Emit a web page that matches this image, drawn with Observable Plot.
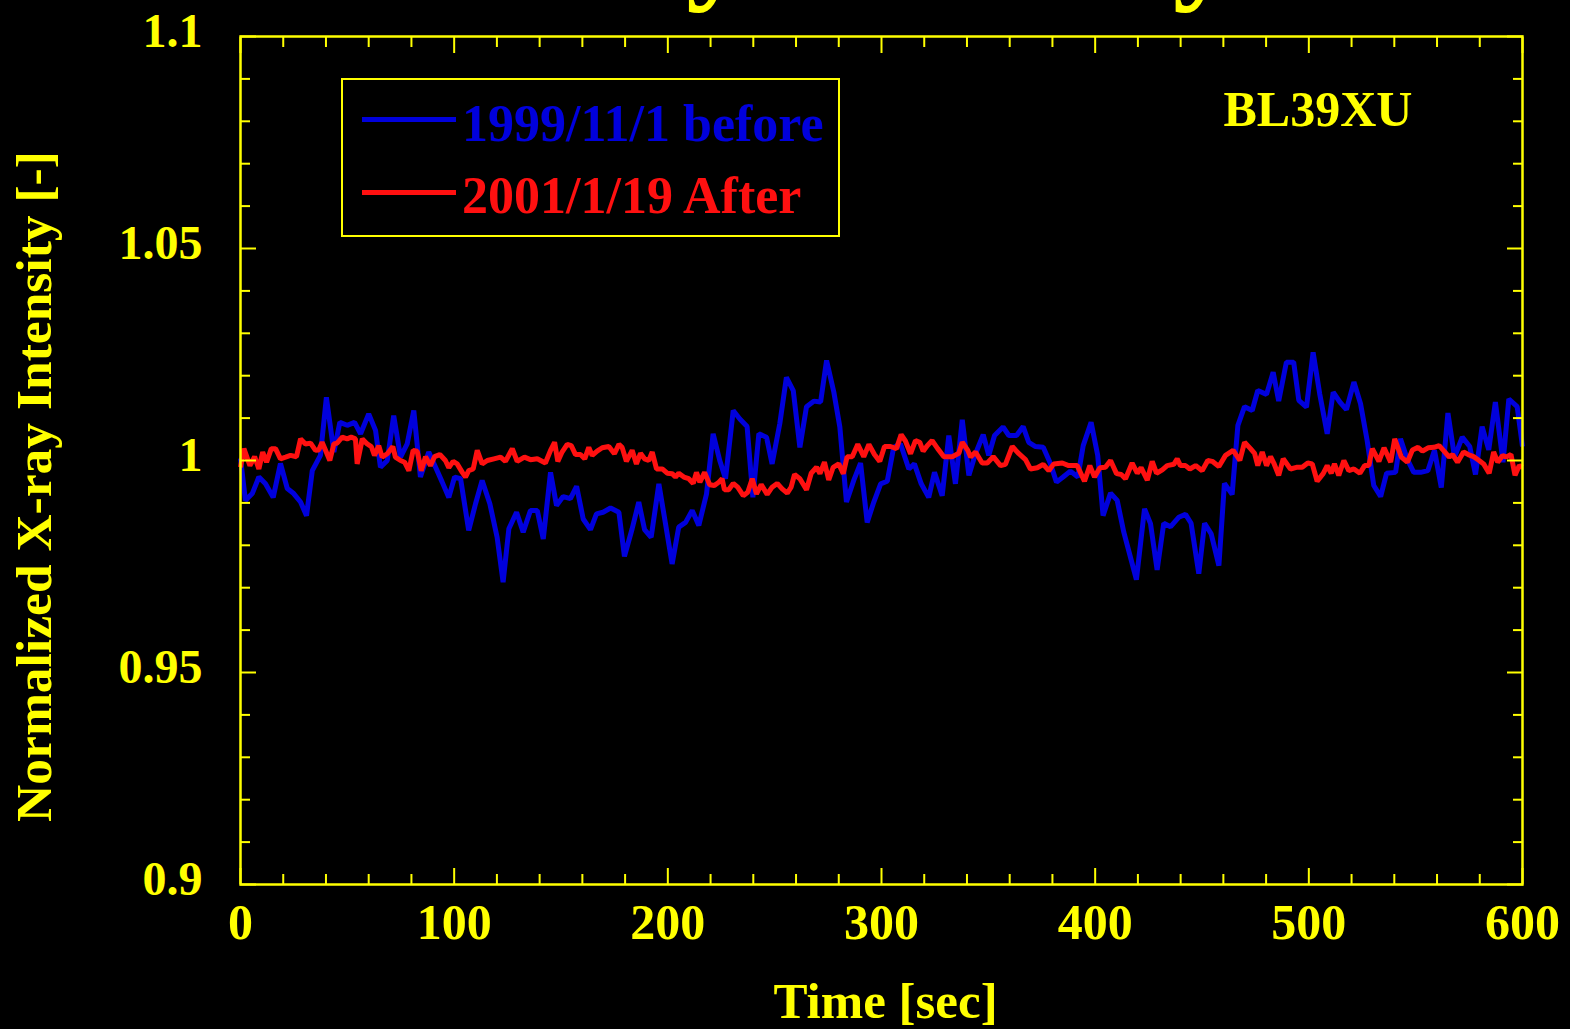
<!DOCTYPE html>
<html>
<head>
<meta charset="utf-8">
<script src="https://cdn.jsdelivr.net/npm/d3@7"></script>
<script src="https://cdn.jsdelivr.net/npm/@observablehq/plot@0.6"></script>
<style>
  html, body { margin: 0; padding: 0; background: #000; overflow: hidden; }
  #wrap { position: relative; width: 1570px; height: 1029px; background: #000; overflow: hidden; }
  .serif { font-family: "Liberation Serif", "Times New Roman", serif; font-weight: bold; }
  #title { position: absolute; left: 273px; top: -119px; font-size: 126px; line-height: 1; color: #ffff00; white-space: nowrap; }
  #legend { position: absolute; left: 341px; top: 78px; width: 499px; height: 159px; box-sizing: border-box; border: 2px solid #ffff00; }
  #legend .sw { position: absolute; left: 19px; width: 94px; height: 5px; }
  #legend .lt { position: absolute; left: 119px; font-size: 52px; line-height: 1; white-space: nowrap; }
</style>
</head>
<body>
<div id="wrap">
  <div id="chart"></div>
  <div id="title" class="serif">Intensity Stability</div>
  <div id="legend" class="serif"></div>
</div>
<script>
// ---------------- data ----------------
const seriesNames = ["1999/11/1 before", "2001/1/19 After"];
const seriesColors = ["#0000dc", "#ff1010"];
const stationLabel = "BL39XU";
const xTitle = "Time [sec]";
const yTitle = "Normalized X-ray Intensity [-]";

const xMajorTicks = [0, 100, 200, 300, 400, 500, 600];
const xMinorTicks = [20, 40, 60, 80, 120, 140, 160, 180, 220, 240, 260, 280, 320, 340, 360, 380, 420, 440, 460, 480, 520, 540, 560, 580];
const yMajorTicks = [0.9, 0.95, 1, 1.05, 1.1];
const yMinorTicks = [0.91, 0.92, 0.93, 0.94, 0.96, 0.97, 0.98, 0.99, 1.01, 1.02, 1.03, 1.04, 1.06, 1.07, 1.08, 1.09];

// 1999/11/1 before (blue)
const beforeTime = [0, 2.3, 5.5, 8.6, 11.7, 15.3, 18.7, 21.9, 24.9, 28.1, 30.9, 33.6, 37.4, 40.2, 43.7, 46.5, 49.9, 53.4, 56.2, 60.0, 63.2, 65.5, 68.7, 71.7, 74.9, 78.0, 81.1, 84.2, 88.1, 91.3, 94.4, 97.5, 100.2, 103.0, 106.8, 110.0, 113.1, 116.7, 120.1, 122.9, 125.6, 129.2, 132.3, 135.7, 138.9, 141.7, 145.1, 147.9, 151.0, 154.4, 157.3, 160.4, 163.8, 166.6, 169.7, 173.2, 177.1, 179.7, 183.3, 186.4, 189.1, 192.2, 195.8, 198.9, 202.0, 205.1, 208.3, 211.4, 214.5, 218.1, 221.2, 224.3, 227.0, 230.6, 233.7, 237.1, 239.8, 242.6, 246.2, 248.8, 252.4, 255.5, 258.7, 261.8, 264.9, 268.3, 271.5, 274.3, 277.7, 280.5, 283.6, 287.0, 290.2, 293.3, 296.4, 299.6, 302.7, 305.7, 308.9, 312.8, 315.4, 318.6, 322.1, 324.8, 328.4, 331.5, 334.6, 337.8, 340.9, 344.0, 347.6, 350.2, 352.9, 356.9, 359.6, 363.2, 366.3, 368.9, 372.1, 375.7, 378.8, 381.9, 385.0, 388.4, 391.9, 394.4, 398.1, 401.2, 403.7, 407.2, 410.3, 413.4, 416.5, 419.3, 423.1, 425.9, 429.0, 432.1, 435.3, 439.1, 442.3, 444.9, 448.5, 451.2, 454.3, 457.9, 460.5, 464.1, 466.8, 469.9, 473.5, 476.1, 480.2, 483.3, 485.9, 489.5, 492.9, 495.3, 498.9, 502.0, 505.1, 508.6, 511.4, 514.5, 517.6, 521.1, 524.2, 527.3, 530.4, 533.6, 536.4, 540.6, 542.9, 546.0, 549.1, 552.3, 555.7, 558.8, 562.0, 565.1, 568.2, 571.8, 575.3, 578.0, 581.1, 584.2, 587.3, 590.9, 593.6, 597.5, 600];
const beforeValue = [1.0005, 0.9906, 0.9922, 0.9961, 0.9945, 0.9913, 0.9993, 0.9934, 0.9922, 0.9902, 0.9870, 0.9976, 1.0012, 1.0149, 1.0020, 1.0090, 1.0083, 1.0090, 1.0063, 1.0110, 1.0071, 0.9984, 1.0000, 1.0106, 1.0008, 1.0039, 1.0118, 0.9961, 1.0020, 0.9984, 0.9949, 0.9913, 0.9961, 0.9957, 0.9835, 0.9898, 0.9953, 0.9898, 0.9819, 0.9713, 0.9839, 0.9878, 0.9831, 0.9882, 0.9882, 0.9815, 0.9972, 0.9894, 0.9915, 0.9910, 0.9939, 0.9862, 0.9837, 0.9874, 0.9878, 0.9888, 0.9878, 0.9774, 0.9839, 0.9902, 0.9837, 0.9819, 0.9945, 0.9851, 0.9756, 0.9843, 0.9854, 0.9882, 0.9847, 0.9921, 1.0063, 1.0000, 0.9957, 1.0118, 1.0098, 1.0080, 0.9913, 1.0063, 1.0055, 0.9992, 1.0087, 1.0196, 1.0165, 1.0031, 1.0127, 1.0140, 1.0138, 1.0236, 1.0161, 1.0079, 0.9902, 0.9953, 0.9994, 0.9854, 0.9902, 0.9945, 0.9951, 1.0031, 1.0039, 0.9980, 0.9992, 0.9945, 0.9913, 0.9972, 0.9917, 1.0059, 0.9945, 1.0096, 0.9965, 1.0016, 1.0061, 1.0012, 1.0059, 1.0079, 1.0059, 1.0059, 1.0080, 1.0043, 1.0033, 1.0031, 0.9996, 0.9949, 0.9961, 0.9975, 0.9961, 1.0035, 1.0090, 1.0012, 0.9870, 0.9923, 0.9906, 0.9831, 0.9772, 0.9719, 0.9886, 0.9851, 0.9742, 0.9852, 0.9844, 0.9866, 0.9873, 0.9852, 0.9733, 0.9852, 0.9827, 0.9752, 0.9946, 0.9920, 1.0083, 1.0127, 1.0118, 1.0165, 1.0156, 1.0208, 1.0140, 1.0232, 1.0232, 1.0142, 1.0126, 1.0255, 1.0157, 1.0063, 1.0161, 1.0138, 1.0120, 1.0185, 1.0134, 1.0047, 0.9941, 0.9915, 0.9970, 0.9972, 1.0051, 1.0004, 0.9972, 0.9972, 0.9976, 1.0024, 0.9936, 1.0112, 1.0008, 1.0055, 1.0033, 0.9967, 1.0080, 1.0025, 1.0138, 0.9996, 1.0145, 1.0127, 1.0033];

// 2001/1/19 After (red)
const afterTime = [0, 1.6, 4.4, 6.6, 8.6, 10.4, 12.2, 14.4, 16.4, 18.7, 21.1, 23.4, 26.2, 28.1, 30.4, 32.8, 35.1, 36.6, 38.2, 39.8, 41.8, 43.7, 45.2, 47.6, 49.9, 51.8, 53.8, 54.6, 57.0, 59.3, 61.2, 62.7, 64.7, 66.3, 68.7, 71.3, 72.5, 74.9, 76.8, 78.8, 80.8, 82.7, 84.6, 86.6, 88.9, 90.8, 93.3, 95.9, 97.5, 99.5, 101.4, 103.8, 105.3, 106.8, 108.9, 110.8, 113.1, 115.5, 118.6, 121.7, 124.0, 127.2, 129.5, 132.9, 135.7, 138.9, 142.7, 145.1, 147.0, 148.5, 150.5, 152.9, 154.8, 156.8, 159.1, 161.1, 163.0, 164.6, 166.9, 169.3, 172.4, 175.0, 177.1, 178.6, 180.6, 183.3, 185.3, 187.2, 189.1, 191.1, 192.7, 194.7, 197.4, 199.7, 202.0, 203.6, 205.1, 207.5, 209.8, 211.9, 213.4, 215.0, 217.2, 219.6, 221.8, 223.9, 225.4, 226.5, 228.5, 230.6, 232.7, 235.3, 237.4, 239.5, 241.5, 243.7, 246.5, 248.8, 251.2, 253.5, 255.9, 257.7, 259.3, 261.8, 264.9, 267.1, 269.6, 271.2, 273.3, 275.3, 277.4, 280.0, 282.1, 283.9, 286.3, 288.9, 291.7, 294.1, 296.7, 299.2, 301.4, 304.2, 307.0, 309.2, 311.2, 313.6, 315.9, 317.9, 319.5, 321.4, 323.7, 326.3, 329.2, 333.1, 336.2, 337.8, 340.4, 341.7, 344.0, 347.1, 349.5, 352.3, 355.7, 358.0, 361.2, 364.3, 367.4, 369.7, 372.9, 375.7, 378.3, 380.6, 384.6, 387.6, 391.6, 395.0, 397.5, 399.7, 402.2, 404.8, 407.2, 410.0, 412.2, 414.2, 417.3, 419.7, 421.5, 424.4, 426.7, 428.7, 431.4, 433.7, 436.8, 438.4, 439.9, 442.3, 444.3, 447.0, 450.1, 452.7, 454.8, 457.9, 461.0, 464.6, 467.7, 469.9, 472.7, 474.6, 476.1, 478.2, 480.2, 482.1, 483.6, 485.9, 488.0, 491.4, 494.2, 496.9, 499.5, 501.6, 503.9, 506.7, 508.6, 510.5, 512.0, 514.0, 516.4, 518.7, 521.1, 523.9, 526.1, 528.1, 529.7, 532.8, 535.2, 538.3, 540.2, 543.3, 546.1, 548.5, 551.1, 553.2, 555.8, 558.6, 561.0, 563.3, 565.7, 567.3, 569.6, 572.4, 574.6, 577.1, 579.7, 581.8, 584.4, 586.5, 588.4, 590.7, 592.3, 594.6, 596.5, 598.5, 600.0];
const afterValue = [0.9984, 1.0028, 0.9988, 1.0009, 0.9980, 1.0020, 0.9996, 1.0028, 1.0028, 1.0004, 1.0008, 1.0012, 1.0009, 1.0051, 1.0039, 1.0041, 1.0024, 1.0025, 1.0043, 1.0024, 1.0000, 1.0039, 1.0041, 1.0055, 1.0051, 1.0055, 1.0051, 0.9992, 1.0051, 1.0039, 1.0033, 1.0012, 1.0035, 1.0008, 1.0016, 1.0033, 1.0008, 1.0000, 0.9996, 0.9976, 1.0024, 1.0022, 0.9976, 1.0009, 0.9988, 1.0009, 1.0014, 1.0000, 0.9983, 0.9998, 0.9992, 0.9972, 0.9961, 0.9976, 0.9980, 1.0024, 0.9992, 1.0000, 1.0004, 1.0008, 0.9998, 1.0028, 0.9998, 1.0008, 1.0002, 1.0004, 0.9994, 1.0024, 1.0043, 0.9998, 1.0020, 1.0038, 1.0035, 1.0014, 1.0014, 1.0004, 1.0031, 1.0012, 1.0022, 1.0030, 1.0033, 1.0016, 1.0038, 1.0031, 0.9998, 1.0024, 0.9992, 1.0017, 1.0004, 1.0000, 1.0020, 0.9980, 0.9980, 0.9970, 0.9969, 0.9961, 0.9970, 0.9961, 0.9957, 0.9946, 0.9972, 0.9949, 0.9972, 0.9943, 0.9941, 0.9949, 0.9957, 0.9931, 0.9931, 0.9946, 0.9937, 0.9917, 0.9925, 0.9957, 0.9921, 0.9943, 0.9920, 0.9937, 0.9946, 0.9933, 0.9923, 0.9937, 0.9967, 0.9957, 0.9931, 0.9970, 0.9984, 0.9969, 0.9996, 0.9954, 0.9984, 0.9992, 0.9969, 1.0009, 1.0009, 1.0038, 1.0009, 1.0038, 1.0014, 0.9998, 1.0033, 1.0033, 1.0028, 1.0061, 1.0046, 1.0016, 1.0047, 1.0043, 1.0022, 1.0035, 1.0047, 1.0028, 1.0009, 1.0009, 1.0017, 1.0043, 1.0024, 1.0008, 1.0020, 0.9994, 0.9994, 1.0009, 0.9988, 0.9991, 1.0033, 1.0016, 1.0002, 0.9980, 0.9983, 0.9991, 0.9976, 0.9992, 0.9994, 0.9988, 0.9988, 0.9951, 0.9988, 0.9961, 0.9983, 0.9984, 1.0000, 0.9969, 0.9967, 0.9957, 0.9994, 0.9970, 0.9983, 0.9954, 0.9998, 0.9970, 0.9978, 0.9988, 0.9991, 1.0004, 0.9988, 0.9988, 0.9980, 0.9988, 0.9976, 1.0000, 0.9998, 0.9986, 1.0012, 1.0024, 1.0000, 1.0043, 1.0028, 1.0017, 0.9988, 1.0020, 0.9988, 1.0009, 0.9994, 0.9965, 1.0004, 0.9980, 0.9984, 0.9984, 0.9994, 0.9992, 0.9951, 0.9969, 0.9988, 0.9970, 0.9992, 0.9965, 1.0000, 0.9976, 0.9980, 0.9970, 0.9988, 0.9988, 1.0028, 0.9998, 1.0030, 0.9996, 1.0051, 1.0008, 0.9996, 1.0025, 1.0031, 1.0022, 1.0030, 1.0031, 1.0035, 1.0022, 1.0008, 1.0014, 0.9996, 1.0020, 1.0014, 1.0009, 1.0000, 0.9992, 0.9970, 1.0020, 0.9996, 1.0012, 1.0008, 1.0014, 0.9965, 0.9988, 0.9984];

// ---------------- build ----------------
const YEL = "#ffff00";
const FONT = "Liberation Serif, Times New Roman, serif";
const before = beforeTime.map((t, i) => ({t, v: beforeValue[i]}));
const after = afterTime.map((t, i) => ({t, v: afterValue[i]}));

const chart = Plot.plot({
  width: 1570,
  height: 1029,
  marginLeft: 240,
  marginRight: 48,
  marginTop: 36,
  marginBottom: 145,
  style: {background: "#000", color: YEL, fontFamily: FONT, fontWeight: "bold", overflow: "visible"},
  x: {domain: [0, 600]},
  y: {domain: [0.9, 1.1]},
  marks: [
    Plot.line(before, {x: "t", y: "v", stroke: seriesColors[0], strokeWidth: 5, strokeLinejoin: "miter", strokeLinecap: "butt"}),
    Plot.line(after, {x: "t", y: "v", stroke: seriesColors[1], strokeWidth: 5, strokeLinejoin: "miter", strokeLinecap: "butt"}),
    Plot.frame({stroke: YEL, strokeWidth: 2.5}),
    // minor ticks (inward), all four sides
    Plot.axisX(xMinorTicks, {anchor: "bottom", tickSize: -10, stroke: YEL, strokeWidth: 2, fill: "none", label: null}),
    Plot.axisX(xMinorTicks, {anchor: "top", tickSize: -10, stroke: YEL, strokeWidth: 2, fill: "none", label: null}),
    Plot.axisY(yMinorTicks, {anchor: "left", tickSize: -10, stroke: YEL, strokeWidth: 2, fill: "none", label: null}),
    Plot.axisY(yMinorTicks, {anchor: "right", tickSize: -10, stroke: YEL, strokeWidth: 2, fill: "none", label: null}),
    // major ticks (inward)
    Plot.axisX(xMajorTicks, {anchor: "top", tickSize: -16, stroke: YEL, strokeWidth: 2, fill: "none", label: null}),
    Plot.axisY(yMajorTicks, {anchor: "left", tickSize: -16, stroke: YEL, strokeWidth: 2, fill: "none", label: null}),
    Plot.axisY(yMajorTicks, {anchor: "right", tickSize: -16, stroke: YEL, strokeWidth: 2, fill: "none", label: null}),
    Plot.axisX(xMajorTicks, {anchor: "bottom", tickSize: -16, tickPadding: 34.5, stroke: YEL, strokeWidth: 2, fill: YEL, fontSize: 50, fontWeight: "bold", tickFormat: d => String(d), label: null}),
    // y tick labels (text only, nudged up as in the original)
    Plot.axisY(yMajorTicks, {anchor: "left", tickSize: 0, tickPadding: 38, fill: YEL, fontSize: 48, fontWeight: "bold", dy: -5, tickFormat: d => String(d), label: null}),
    // axis titles and station label
    Plot.text([xTitle], {frameAnchor: "bottom", textAnchor: "middle", lineAnchor: "bottom", dx: 4, dy: 133, fill: YEL, fontSize: 51, fontWeight: "bold"}),
    Plot.text([yTitle], {frameAnchor: "left", textAnchor: "middle", rotate: -90, lineAnchor: "middle", dx: -206, dy: 26, fill: YEL, fontSize: 51.5, fontWeight: "bold"}),
    Plot.text([stationLabel], {frameAnchor: "top-left", textAnchor: "start", lineAnchor: "bottom", dx: 983, dy: 89, fill: YEL, fontSize: 50, fontWeight: "bold"})
  ]
});
document.getElementById("chart").appendChild(chart);

// legend (drawn inside the plot area, as in the original)
const legend = document.getElementById("legend");
const swTops = [37, 110];
const txtTops = [17.5, 89.5];
seriesNames.forEach((name, i) => {
  const sw = document.createElement("div");
  sw.className = "sw";
  sw.style.top = swTops[i] + "px";
  sw.style.background = seriesColors[i];
  legend.appendChild(sw);
  const lt = document.createElement("div");
  lt.className = "lt";
  lt.style.top = txtTops[i] + "px";
  lt.style.color = seriesColors[i];
  lt.textContent = name;
  legend.appendChild(lt);
});
</script>
</body>
</html>
